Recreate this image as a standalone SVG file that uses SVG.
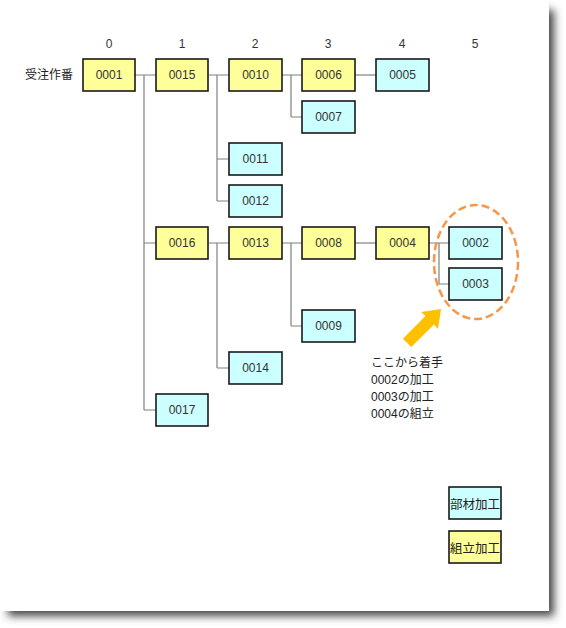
<svg xmlns="http://www.w3.org/2000/svg" width="566" height="628" viewBox="0 0 566 628">
<defs>
<filter id="sh" x="-10%" y="-10%" width="120%" height="120%"><feGaussianBlur stdDeviation="4"/></filter>
<style>
.n rect{stroke:#1a1a1a;stroke-width:1.6}
.y rect{fill:#FFFF99}
.c rect{fill:#CCFFFF}
.n text{font-family:"Liberation Sans",Arial,sans-serif;font-size:12px;fill:#333;text-anchor:middle;dominant-baseline:central}
.h{font-family:"Liberation Sans",Arial,sans-serif;font-size:12px;fill:#333;text-anchor:middle;dominant-baseline:central}
.j{font-family:"Liberation Sans","Noto Sans CJK JP",sans-serif;font-size:12px;fill:#222}
#conn path{fill:none;stroke:#808080;stroke-width:1.2}
</style>
</defs>
<rect width="566" height="628" fill="#fff"/>
<rect x="8" y="10" width="546" height="606" fill="#444" filter="url(#sh)"/>
<rect x="0" y="0" width="549" height="611" fill="#fff"/>

<g class="h">
<text x="109" y="44">0</text><text x="182" y="44">1</text><text x="255" y="44">2</text>
<text x="328" y="44">3</text><text x="402" y="44">4</text><text x="475" y="44">5</text>
</g>
<text class="j" x="25" y="79">受注作番</text>

<g id="conn">
<path d="M135 75H156M144 75V410M144 243H156M144 410H156"/>
<path d="M209 75H229M217 75V201M217 159H229M217 201H229"/>
<path d="M282 75H302M291 75V117M291 117H302"/>
<path d="M355 75H376"/>
<path d="M209 243H229M217 243V368M217 368H229"/>
<path d="M282 243H302M291 243V326M291 326H302"/>
<path d="M355 243H376"/>
<path d="M429 243H449M439 243V284M439 284H449"/>
</g>

<g id="n0001" class="n y"><rect x="83" y="59" width="52" height="32"/><text x="109" y="75">0001</text></g>
<g id="n0015" class="n y"><rect x="156" y="59" width="52" height="32"/><text x="182" y="75">0015</text></g>
<g id="n0010" class="n y"><rect x="229" y="59" width="53" height="32"/><text x="255.5" y="75">0010</text></g>
<g id="n0006" class="n y"><rect x="302" y="59" width="53" height="32"/><text x="328.5" y="75">0006</text></g>
<g id="n0005" class="n c"><rect x="376" y="59" width="53" height="32"/><text x="402.5" y="75">0005</text></g>
<g id="n0007" class="n c"><rect x="302" y="101" width="53" height="32"/><text x="328.5" y="117">0007</text></g>
<g id="n0011" class="n c"><rect x="229" y="143" width="53" height="32"/><text x="255.5" y="159">0011</text></g>
<g id="n0012" class="n c"><rect x="229" y="185" width="53" height="32"/><text x="255.5" y="201">0012</text></g>
<g id="n0016" class="n y"><rect x="156" y="227" width="52" height="32"/><text x="182" y="243">0016</text></g>
<g id="n0013" class="n y"><rect x="229" y="227" width="53" height="32"/><text x="255.5" y="243">0013</text></g>
<g id="n0008" class="n y"><rect x="302" y="227" width="53" height="32"/><text x="328.5" y="243">0008</text></g>
<g id="n0004" class="n y"><rect x="376" y="227" width="53" height="32"/><text x="402.5" y="243">0004</text></g>
<g id="n0002" class="n c"><rect x="449" y="227" width="53" height="32"/><text x="475.5" y="243">0002</text></g>
<g id="n0003" class="n c"><rect x="449" y="268" width="53" height="32"/><text x="475.5" y="284">0003</text></g>
<g id="n0009" class="n c"><rect x="302" y="310" width="53" height="32"/><text x="328.5" y="326">0009</text></g>
<g id="n0014" class="n c"><rect x="229" y="352" width="53" height="32"/><text x="255.5" y="368">0014</text></g>
<g id="n0017" class="n c"><rect x="156" y="394" width="52" height="32"/><text x="182" y="410">0017</text></g>

<ellipse cx="476" cy="262" rx="42" ry="57" fill="none" stroke="#F79646" stroke-width="2.5" stroke-dasharray="8 4"/>
<polygon points="441,309 438,329 434,324.5 411.3,347.1 402.9,338.7 425.5,316.1 421,312" fill="#FFC000"/>

<g class="j">
<text x="371" y="367">ここから着手</text>
<text x="371" y="384">0002の加工</text>
<text x="371" y="401">0003の加工</text>
<text x="371" y="418">0004の組立</text>
</g>

<g id="legend1" class="n c"><rect x="449" y="487" width="52" height="32"/><text x="475" y="503" textLength="50" lengthAdjust="spacingAndGlyphs" style="font-family:'Noto Sans CJK JP',sans-serif;font-size:12.5px;fill:#222">部材加工</text></g>
<g id="legend2" class="n y"><rect x="449" y="531" width="52" height="32"/><text x="475" y="547" textLength="50" lengthAdjust="spacingAndGlyphs" style="font-family:'Noto Sans CJK JP',sans-serif;font-size:12.5px;fill:#222">組立加工</text></g>
</svg>
